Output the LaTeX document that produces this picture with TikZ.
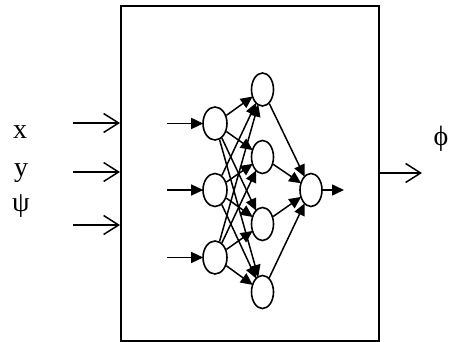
\documentclass[tikz,border=0pt]{standalone}
\usepackage{fontspec}
\setmainfont{Liberation Serif}
\usetikzlibrary{arrows.meta,shapes.geometric}
\begin{document}
\begin{tikzpicture}[x=1pt,y=-1pt,
  neuron/.style={ellipse,draw,line width=1.6pt,minimum width=22pt,minimum height=33pt,inner sep=0pt},
  link/.style={line width=1.5pt,-{Triangle[length=12pt,width=11pt]},shorten >=-1pt},
  openarrow/.style={line width=1.5pt,-{Straight Barb[length=15pt,width=19pt,line width=1.5pt]}},
  lbl/.style={font=\fontsize{28}{30}\selectfont,inner sep=0pt}]
\useasboundingbox (0,0) rectangle (450,342);
% outer box
\node[draw,line width=2pt,minimum width=258pt,minimum height=335pt,inner sep=0pt] (box) at (250,173.5) {};
% labels
\node[lbl,anchor=base] (lx) at (20,139) {x};
\node[lbl,anchor=base] (ly) at (21,177) {y};
\node[lbl] (lpsi) at (21,206) {ψ};
\node[lbl] (lphi) at (441,139) {ϕ};
% outer arrows
\coordinate (a1) at (73,123);
\coordinate (a2) at (73,172);
\coordinate (a3) at (73,225);
\coordinate (b1) at (box.west |- a1);
\coordinate (b2) at (box.west |- a2);
\coordinate (b3) at (box.west |- a3);
\draw[openarrow] (a1) -- (b1);
\draw[openarrow] (a2) -- (b2);
\draw[openarrow] (a3) -- (b3);
\coordinate (o1) at (box.east |- 0,173);
\coordinate (o2) at (422,173);
\draw[openarrow] (o1) -- (o2);
% network
\node[neuron,minimum width=24pt] (i1) at (215,123.5) {};
\node[neuron,minimum width=24pt] (i2) at (215,190) {};
\node[neuron,minimum width=24pt] (i3) at (215,257.5) {};
\node[neuron] (h1) at (262.5,89.5) {};
\node[neuron] (h2) at (262.5,157) {};
\node[neuron] (h3) at (262.5,224) {};
\node[neuron] (h4) at (262.5,292) {};
\node[neuron] (out) at (311,190) {};
\coordinate (s1) at (167,123.5);
\coordinate (s2) at (167,190);
\coordinate (s3) at (167,257.5);
\coordinate (e) at (343,190);
\foreach \k in {1,2,3} \draw[link] (s\k) -- (i\k);
\foreach \i in {1,2,3} \foreach \h in {1,2,3,4} \draw[link] (i\i) -- (h\h);
\foreach \h in {1,2,3,4} \draw[link] (h\h) -- (out);
\draw[link] (out) -- (e);
\end{tikzpicture}
\end{document}
